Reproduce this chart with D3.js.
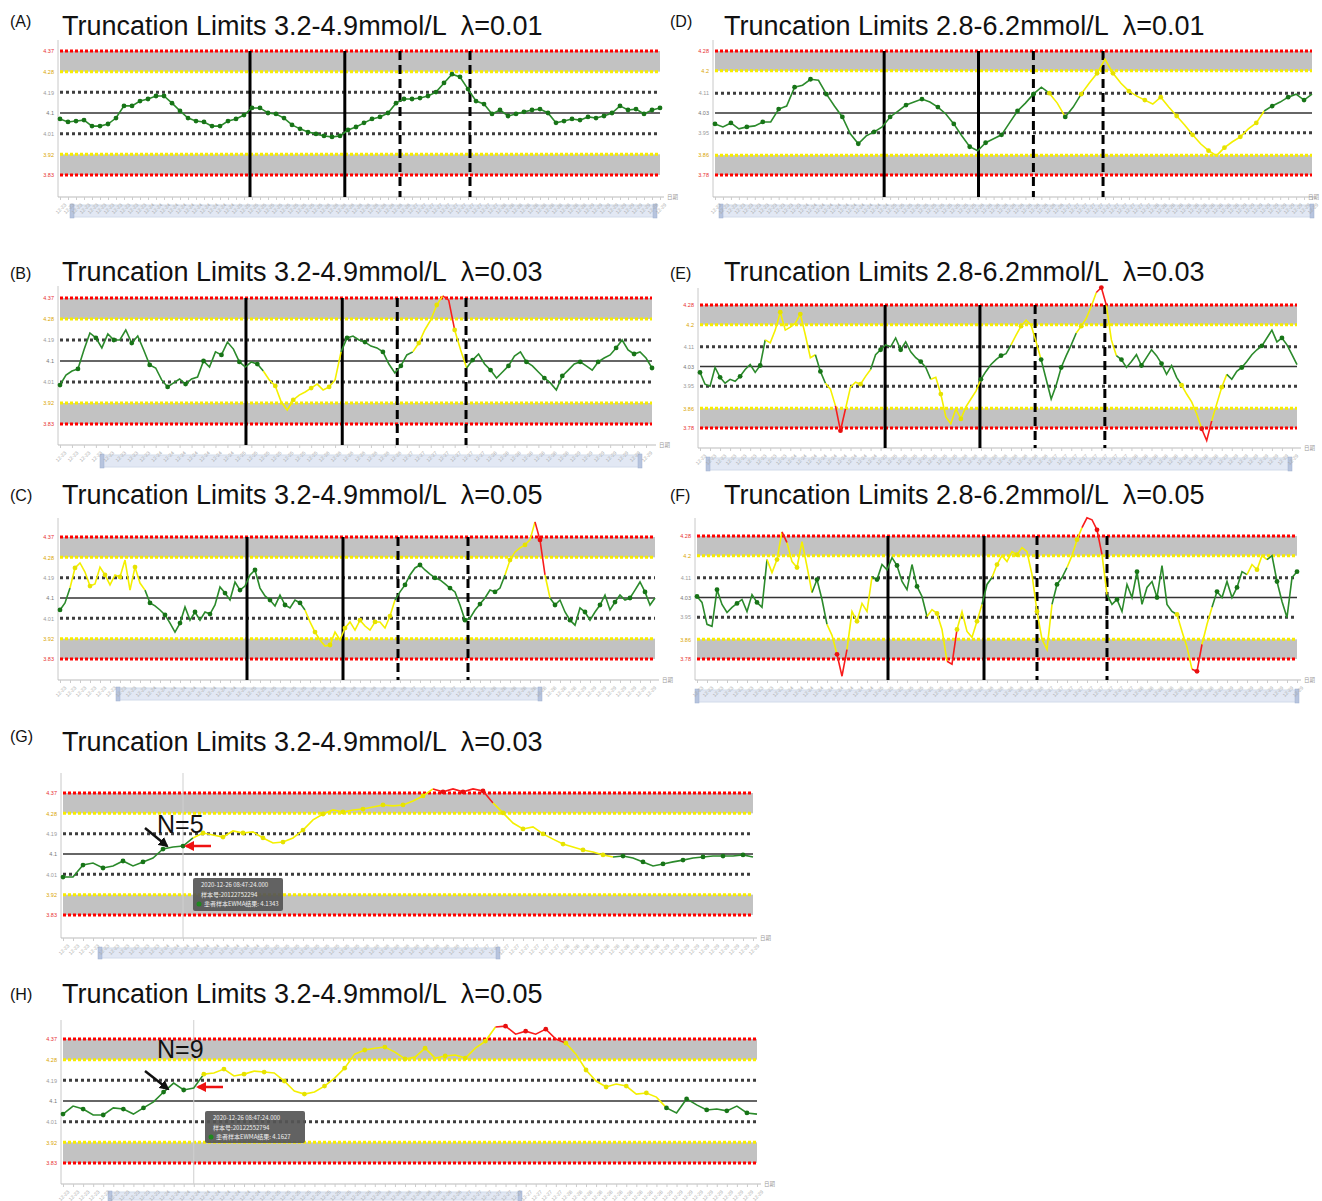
<!DOCTYPE html>
<html>
<head>
<meta charset="utf-8">
<script src="https://d3js.org/d3.v7.min.js"></script>
<style>
  body { margin: 0; background: #fff; }
  svg { display: block; font-family: "Liberation Sans", Arial, sans-serif; }
  .title { white-space: pre; }
</style>
</head>
<body>
<svg id="fig" width="1322" height="1201"></svg>
<script>
// control limits, bottom to top (-3s, -2s, -1s, mean, +1s, +2s, +3s), mmol/L
var limitsLeft = [3.83, 3.92, 4.01, 4.1, 4.19, 4.28, 4.37];
var limitsRight = [3.78, 3.86, 3.95, 4.03, 4.11, 4.2, 4.28];
var dayLabels = ['12-23', '12-24', '12-25', '12-26', '12-27', '12-28', '12-29'];

// EWMA results per panel
var valuesA = [4.074, 4.061, 4.065, 4.069, 4.043, 4.043, 4.052, 4.078, 4.131, 4.131,
  4.152, 4.161, 4.174, 4.174, 4.143, 4.109, 4.078, 4.065, 4.061, 4.043,
  4.043, 4.065, 4.074, 4.091, 4.122, 4.122, 4.1, 4.096, 4.078, 4.048,
  4.031, 4.017, 4.009, 4.0, 3.996, 4.0, 4.026, 4.039, 4.057, 4.074,
  4.083, 4.1, 4.143, 4.161, 4.161, 4.165, 4.174, 4.191, 4.231, 4.269,
  4.257, 4.204, 4.152, 4.139, 4.096, 4.113, 4.087, 4.096, 4.105, 4.113,
  4.117, 4.1, 4.057, 4.065, 4.074, 4.069, 4.083, 4.078, 4.087, 4.1,
  4.131, 4.113, 4.117, 4.096, 4.113, 4.122];
var runsA = [['g', 76]];
var eventsA = [[23.75, 'solid'], [35.6, 'solid'], [42.5, 'dash'], [51.25, 'dash']];

var valuesB = [3.997, 4.040, 4.057, 4.066, 4.147, 4.220, 4.199, 4.156, 4.216, 4.190,
  4.190, 4.233, 4.177, 4.207, 4.147, 4.083, 4.070, 4.019, 3.989, 4.006,
  4.023, 4.001, 4.023, 4.031, 4.100, 4.074, 4.139, 4.126, 4.181, 4.151,
  4.096, 4.074, 4.096, 4.087, 4.057, 4.019, 3.993, 3.924, 3.890, 3.933,
  3.954, 3.967, 3.984, 4.001, 3.976, 3.989, 4.019, 4.139, 4.199, 4.207,
  4.190, 4.181, 4.164, 4.156, 4.139, 4.087, 4.049, 4.079, 4.126, 4.139,
  4.177, 4.233, 4.276, 4.340, 4.379, 4.361, 4.233, 4.147, 4.070, 4.104,
  4.130, 4.087, 4.061, 4.027, 4.053, 4.079, 4.121, 4.139, 4.096, 4.079,
  4.053, 4.027, 4.006, 3.976, 4.036, 4.061, 4.087, 4.096, 4.079, 4.061,
  4.096, 4.113, 4.126, 4.156, 4.190, 4.147, 4.130, 4.139, 4.113, 4.070];
var runsB = [['g', 34], ['y', 13], ['g', 12], ['y', 5], ['r', 2], ['y', 2], ['g', 32]];
var eventsB = [[31.1, 'solid'], [47.2, 'solid'], [56.4, 'dash'], [67.9, 'dash']];

var valuesC = [4.047, 4.078, 4.144, 4.233, 4.255, 4.215, 4.153, 4.162, 4.237, 4.202,
  4.158, 4.202, 4.193, 4.268, 4.135, 4.237, 4.166, 4.135, 4.078, 4.065,
  4.047, 4.025, 3.989, 3.949, 3.989, 4.060, 4.002, 4.038, 4.002, 4.038,
  4.029, 4.069, 4.149, 4.122, 4.091, 4.171, 4.135, 4.153, 4.202, 4.224,
  4.144, 4.109, 4.091, 4.065, 4.113, 4.069, 4.056, 4.091, 4.078, 4.047,
  3.994, 3.949, 3.914, 3.887, 3.892, 3.949, 3.914, 3.967, 3.994, 3.958,
  4.002, 3.976, 3.958, 3.994, 3.994, 3.967, 4.020, 4.091, 4.127, 4.158,
  4.202, 4.233, 4.246, 4.224, 4.206, 4.189, 4.180, 4.162, 4.144, 4.127,
  4.069, 4.002, 4.011, 4.047, 4.073, 4.100, 4.135, 4.127, 4.144, 4.202,
  4.268, 4.304, 4.322, 4.335, 4.357, 4.437, 4.357, 4.202, 4.100, 4.069,
  4.091, 4.038, 4.002, 3.980, 4.056, 4.038, 4.002, 4.038, 4.069, 4.113,
  4.047, 4.082, 4.113, 4.091, 4.100, 4.135, 4.171, 4.127, 4.069, 4.100];
var runsC = [['g', 2], ['y', 15], ['g', 32], ['y', 18], ['g', 22], ['y', 6], ['r', 2], ['y', 1], ['g', 22]];
var eventsC = [[37.4, 'solid'], [56.6, 'solid'], [67.6, 'dash'], [81.6, 'dash']];

var valuesD = [3.986, 3.974, 3.990, 3.966, 3.974, 3.978, 3.994, 3.994, 4.046, 4.058,
  4.134, 4.142, 4.166, 4.162, 4.106, 4.058, 4.014, 3.946, 3.906, 3.938,
  3.954, 3.974, 4.014, 4.038, 4.062, 4.074, 4.086, 4.074, 4.054, 4.026,
  3.986, 3.938, 3.894, 3.878, 3.910, 3.926, 3.942, 3.990, 4.038, 4.070,
  4.106, 4.134, 4.110, 4.070, 4.014, 4.054, 4.106, 4.150, 4.190, 4.247,
  4.190, 4.150, 4.118, 4.098, 4.082, 4.066, 4.094, 4.054, 4.018, 3.982,
  3.942, 3.906, 3.878, 3.858, 3.890, 3.914, 3.934, 3.966, 3.990, 4.038,
  4.058, 4.074, 4.094, 4.106, 4.082, 4.106];
var runsD = [['g', 42], ['y', 2], ['g', 2], ['y', 23], ['g', 7]];
var eventsD = [[21.25, 'solid'], [33.1, 'solid'], [40, 'dash'], [48.75, 'dash']];

var valuesE = [4.006, 3.958, 3.950, 4.026, 3.986, 3.962, 3.978, 3.970, 3.990, 4.018,
  4.038, 4.006, 4.034, 4.138, 4.126, 4.178, 4.251, 4.178, 4.190, 4.206,
  4.243, 4.158, 4.066, 4.078, 4.010, 3.962, 3.938, 3.870, 3.769, 3.858,
  3.946, 3.966, 3.958, 3.990, 4.018, 4.078, 4.098, 4.118, 4.110, 4.146,
  4.098, 4.130, 4.090, 4.066, 4.050, 4.026, 3.978, 3.986, 3.918, 3.825,
  3.797, 3.858, 3.817, 3.866, 3.898, 3.930, 3.978, 4.010, 4.038, 4.058,
  4.074, 4.082, 4.118, 4.158, 4.194, 4.218, 4.198, 4.130, 4.058, 3.978,
  3.898, 3.954, 4.026, 4.074, 4.118, 4.166, 4.194, 4.226, 4.275, 4.331,
  4.351, 4.279, 4.138, 4.074, 4.058, 4.026, 4.050, 4.078, 4.034, 4.066,
  4.098, 4.074, 4.042, 3.998, 4.034, 3.986, 3.954, 3.918, 3.886, 3.838,
  3.777, 3.729, 3.809, 3.878, 3.946, 3.998, 3.978, 4.010, 4.026, 4.050,
  4.078, 4.098, 4.114, 4.146, 4.178, 4.130, 4.146, 4.118, 4.078, 4.038];
var runsE = [['g', 13], ['y', 10], ['g', 2], ['y', 2], ['r', 2], ['y', 5], ['g', 12], ['y', 10], ['g', 6], ['y', 6],
  ['g', 7], ['y', 4], ['r', 2], ['y', 2], ['g', 13], ['y', 4], ['r', 2], ['y', 3], ['g', 15]];
var eventsE = [[36.9, 'solid'], [55.8, 'solid'], [66.8, 'dash'], [80.7, 'dash']];

var valuesF = [4.034, 4.010, 3.921, 3.913, 4.062, 4.002, 3.969, 3.990, 4.006, 4.022,
  3.973, 4.042, 4.010, 3.990, 4.184, 4.131, 4.184, 4.297, 4.253, 4.176,
  4.152, 4.257, 4.156, 4.050, 4.103, 4.022, 3.921, 3.876, 3.799, 3.710,
  3.819, 3.973, 3.933, 4.006, 3.973, 4.115, 4.103, 4.164, 4.143, 4.192,
  4.160, 4.095, 4.062, 4.164, 4.075, 4.034, 3.953, 3.981, 3.965, 3.900,
  3.771, 3.759, 3.900, 3.973, 3.892, 3.868, 3.933, 4.002, 4.083, 4.111,
  4.164, 4.200, 4.176, 4.216, 4.204, 4.233, 4.216, 4.123, 3.973, 3.860,
  3.819, 4.002, 4.083, 4.111, 4.152, 4.200, 4.265, 4.314, 4.354, 4.346,
  4.305, 4.204, 4.042, 4.002, 4.022, 3.973, 4.083, 4.030, 4.135, 4.002,
  4.071, 4.095, 4.030, 4.160, 4.002, 3.973, 3.961, 3.892, 3.828, 3.738,
  3.730, 3.840, 3.921, 3.990, 4.054, 4.030, 4.095, 4.030, 4.071, 4.135,
  4.123, 4.164, 4.143, 4.200, 4.184, 4.200, 4.095, 4.014, 3.949, 4.111, 4.135];
var runsF = [['g', 14], ['y', 3], ['r', 1], ['y', 5], ['g', 3], ['y', 2], ['r', 2], ['y', 5], ['g', 11], ['y', 4],
  ['r', 2], ['y', 5], ['g', 2], ['y', 12], ['g', 3], ['y', 3], ['r', 4], ['y', 1], ['g', 14], ['y', 3],
  ['r', 2], ['y', 2], ['g', 7], ['y', 4], ['g', 7]];
var eventsF = [[38.2, 'solid'], [57.4, 'solid'], [68, 'dash'], [82, 'dash']];

var valuesG = [3.998, 3.998, 4.051, 4.060, 4.038, 4.047, 4.069, 4.047, 4.065, 4.082,
  4.122, 4.131, 4.135, 4.171, 4.193, 4.184, 4.175, 4.202, 4.193, 4.198,
  4.171, 4.149, 4.153, 4.171, 4.206, 4.251, 4.277, 4.295, 4.286, 4.295,
  4.299, 4.308, 4.317, 4.313, 4.317, 4.335, 4.357, 4.388, 4.375, 4.388,
  4.375, 4.388, 4.379, 4.326, 4.282, 4.237, 4.211, 4.220, 4.189, 4.166,
  4.144, 4.131, 4.118, 4.109, 4.096, 4.087, 4.091, 4.082, 4.065, 4.047,
  4.056, 4.065, 4.073, 4.082, 4.087, 4.091, 4.091, 4.091, 4.096, 4.087];
var runsG = [['g', 13], ['y', 24], ['r', 6], ['y', 12], ['g', 15]];
var tooltipG = ['2020-12-26 08:47:24.000', '样本号:20122752294', '患者样本EWMA结果: 4.1343'];

var valuesH = [4.043, 4.078, 4.065, 4.039, 4.039, 4.070, 4.065, 4.043, 4.070, 4.096,
  4.139, 4.178, 4.148, 4.157, 4.217, 4.222, 4.239, 4.209, 4.217, 4.230,
  4.226, 4.222, 4.187, 4.143, 4.130, 4.139, 4.165, 4.200, 4.243, 4.304,
  4.322, 4.330, 4.335, 4.313, 4.283, 4.291, 4.330, 4.287, 4.296, 4.300,
  4.287, 4.330, 4.361, 4.422, 4.426, 4.391, 4.404, 4.391, 4.413, 4.370,
  4.352, 4.304, 4.235, 4.187, 4.161, 4.174, 4.165, 4.130, 4.135, 4.117,
  4.070, 4.048, 4.109, 4.083, 4.061, 4.065, 4.057, 4.078, 4.048, 4.043];
var runsH = [['g', 14], ['y', 29], ['r', 7], ['y', 10], ['g', 10]];
var tooltipH = ['2020-12-26 08:47:24.000', '样本号:20122552794', '患者样本EWMA结果: 4.1627'];

var colors = { g: '#2b8a2b', y: '#f4f000', r: '#f81c1c' };
var markColors = { g: '#177417', y: '#e6e200', r: '#e81010' };

var panels = [
  { label: '(A)', title: 'Truncation Limits 3.2-4.9mmol/L  λ=0.01', lx: 10, ly: 27, tx: 62, ty: 35,
    values: valuesA, runs: runsA, events: eventsA, limits: limitsLeft, every: 1,
    left: 60, right: 660, yTop: 51, yBot: 175, axisTop: 40, axisY: 197, slider: [72, 655, 205, 217] },
  { label: '(B)', title: 'Truncation Limits 3.2-4.9mmol/L  λ=0.03', lx: 10, ly: 279, tx: 62, ty: 281,
    values: valuesB, runs: runsB, events: eventsB, limits: limitsLeft, every: 3,
    left: 60, right: 652, yTop: 298, yBot: 424, axisTop: 286, axisY: 445, slider: [102, 640, 455, 467] },
  { label: '(C)', title: 'Truncation Limits 3.2-4.9mmol/L  λ=0.05', lx: 10, ly: 501, tx: 62, ty: 504,
    values: valuesC, runs: runsC, events: eventsC, limits: limitsLeft, every: 3,
    left: 60, right: 655, yTop: 537, yBot: 659, axisTop: 518, axisY: 680, slider: [118, 540, 688, 700] },
  { label: '(D)', title: 'Truncation Limits 2.8-6.2mmol/L  λ=0.01', lx: 670, ly: 27, tx: 724, ty: 35,
    values: valuesD, runs: runsD, events: eventsD, limits: limitsRight, every: 2,
    left: 715, right: 1312, yTop: 51, yBot: 175, axisTop: 40, axisY: 197, slider: [721, 1312, 205, 217] },
  { label: '(E)', title: 'Truncation Limits 2.8-6.2mmol/L  λ=0.03', lx: 670, ly: 279, tx: 724, ty: 281,
    values: valuesE, runs: runsE, events: eventsE, limits: limitsRight, every: 4,
    left: 700, right: 1297, yTop: 305, yBot: 428, axisTop: 288, axisY: 448, slider: [708, 1290, 458, 470] },
  { label: '(F)', title: 'Truncation Limits 2.8-6.2mmol/L  λ=0.05', lx: 670, ly: 501, tx: 724, ty: 504,
    values: valuesF, runs: runsF, events: eventsF, limits: limitsRight, every: 4,
    left: 697, right: 1297, yTop: 536, yBot: 659, axisTop: 518, axisY: 680, slider: [697, 1297, 690, 702] },
  { label: '(G)', title: 'Truncation Limits 3.2-4.9mmol/L  λ=0.03', lx: 10, ly: 742, tx: 62, ty: 751,
    values: valuesG, runs: runsG, events: [], limits: limitsLeft, every: 2,
    left: 63, right: 753, yTop: 793, yBot: 915, axisTop: 773, axisY: 938, slider: [100, 498, 948, 958],
    cross: 12, tip: tooltipG, tipBox: [193, 878, 90, 33], note: 'N=5', noteXY: [157, 833],
    blackArrow: [145, 828, 167, 846], redArrow: [211, 846, 186, 846] },
  { label: '(H)', title: 'Truncation Limits 3.2-4.9mmol/L  λ=0.05', lx: 10, ly: 1000, tx: 62, ty: 1003,
    values: valuesH, runs: runsH, events: [], limits: limitsLeft, every: 2,
    left: 63, right: 757, yTop: 1039, yBot: 1163, axisTop: 1020, axisY: 1184, slider: [110, 520, 1192, 1200],
    cross: 13, tip: tooltipH, tipBox: [205, 1111, 100, 32], note: 'N=9', noteXY: [157, 1058],
    blackArrow: [145, 1071, 168, 1089], redArrow: [223, 1087, 198, 1087] }
];

var svg = d3.select('#fig');
var defs = svg.append('defs');
[['ahBlack', '#111'], ['ahRed', '#ee1111']].forEach(function (a) {
  defs.append('marker').attr('id', a[0]).attr('viewBox', '0 0 10 10')
    .attr('refX', 8).attr('refY', 5).attr('markerWidth', 4).attr('markerHeight', 4)
    .attr('orient', 'auto')
    .append('path').attr('d', 'M0,0L10,5L0,10z').attr('fill', a[1]);
});

// color of each point from the run-length list
function pointColors(runs, n) {
  var out = [];
  runs.forEach(function (r) {
    for (var k = 0; k < r[1]; k++) out.push(r[0]);
  });
  while (out.length < n) out.push(out[out.length - 1]);
  return out;
}

var drawPanel = function (p) {
  var n = p.values.length;
  var x = d3.scaleLinear().domain([0, n - 1]).range([p.left, p.right]);
  var y = d3.scaleLinear().domain([p.limits[0], p.limits[6]]).range([p.yBot, p.yTop]);
  var g = svg.append('g');

  svg.append('text').attr('x', p.lx).attr('y', p.ly).attr('font-size', 16).attr('fill', '#111').text(p.label);
  svg.append('text').attr('class', 'title').attr('x', p.tx).attr('y', p.ty)
    .attr('font-size', 27).attr('fill', '#111').text(p.title);

  // slider under the axis (drawn first so the tick labels sit on top)
  var s = p.slider;
  g.append('rect').attr('x', s[0]).attr('y', s[2]).attr('width', s[1] - s[0]).attr('height', s[3] - s[2])
    .attr('fill', '#e2e8f4').attr('stroke', '#d2dbea');
  [s[0], s[1]].forEach(function (hx) {
    g.append('rect').attr('x', hx - 2).attr('y', s[2] - 1).attr('width', 4).attr('height', s[3] - s[2] + 2)
      .attr('fill', '#b7c4de').attr('stroke', '#9fb0d0').attr('stroke-width', 0.5);
  });

  // gray warning bands between 2s and 3s
  [[5, 6], [0, 1]].forEach(function (b) {
    g.append('rect').attr('x', p.left).attr('width', p.right - p.left)
      .attr('y', y(p.limits[b[1]])).attr('height', y(p.limits[b[0]]) - y(p.limits[b[1]]))
      .attr('fill', '#c2c2c2');
  });

  // axes
  g.append('line').attr('x1', p.left - 2).attr('x2', p.left - 2)
    .attr('y1', p.axisTop).attr('y2', p.axisY).attr('stroke', '#c8c8c8');

  var step = Math.max(1, Math.round(9 / ((p.right - p.left) / (n - 1))));
  var xAxis = d3.axisBottom(x).tickValues(d3.range(0, n, step)).tickSize(3)
    .tickFormat(function (i) { return dayLabels[Math.min(dayLabels.length - 1, Math.floor(i / n * dayLabels.length))]; });
  var ax = g.append('g').attr('transform', 'translate(0,' + p.axisY + ')').call(xAxis);
  ax.select('.domain').attr('stroke', '#bbb').attr('d', 'M' + (p.left - 2) + ',0H' + (p.right + 4));
  ax.selectAll('.tick line').attr('stroke', '#ccc');
  ax.selectAll('.tick text').attr('font-size', 5).attr('fill', '#a8a8a8')
    .attr('text-anchor', 'end').attr('dx', 0).attr('dy', 0)
    .attr('transform', 'translate(2,4) rotate(-45)');
  g.append('text').attr('x', Math.min(p.right + 7, 1308)).attr('y', p.axisY + 2).attr('font-size', 5.5)
    .attr('fill', '#999').attr('font-family', 'Noto Sans CJK SC').text('日期');

  var labelColors = ['#e83030', '#d9a400', '#9a9a9a', '#777', '#9a9a9a', '#d9a400', '#e83030'];
  var yAxis = d3.axisLeft(y).tickValues(p.limits).tickSize(0).tickFormat(function (v) { return String(v); });
  var ay = g.append('g').attr('transform', 'translate(' + (p.left - 3) + ',0)').call(yAxis);
  ay.select('.domain').remove();
  ay.selectAll('.tick text').attr('font-size', 5.5).attr('fill', function (v, i) { return labelColors[i]; });

  // limit lines
  p.limits.forEach(function (v, i) {
    var line = g.append('line').attr('x1', p.left).attr('x2', p.right).attr('y1', y(v)).attr('y2', y(v));
    if (i === 3) {
      line.attr('stroke', '#333').attr('stroke-width', 1.6);
    } else if (i === 0 || i === 6) {
      line.attr('stroke', '#ff0000').attr('stroke-width', 3).attr('stroke-dasharray', '3,2');
    } else if (i === 1 || i === 5) {
      line.attr('stroke', '#f6ec00').attr('stroke-width', 3).attr('stroke-dasharray', '3,2');
    } else {
      line.attr('stroke', '#3d3d3d').attr('stroke-width', 3).attr('stroke-dasharray', '3,3');
    }
  });

  // event markers
  p.events.forEach(function (e) {
    g.append('line').attr('x1', x(e[0])).attr('x2', x(e[0]))
      .attr('y1', p.yTop).attr('y2', p.axisY)
      .attr('stroke', '#000').attr('stroke-width', 3)
      .attr('stroke-dasharray', e[1] === 'dash' ? '9,5' : null);
  });

  if (p.cross !== undefined) {
    g.append('line').attr('x1', x(p.cross)).attr('x2', x(p.cross))
      .attr('y1', p.axisTop).attr('y2', p.axisY).attr('stroke', '#cfcfcf').attr('stroke-width', 1);
  }

  // EWMA series
  var cols = pointColors(p.runs, n);
  var line = d3.line().x(function (d) { return x(d[0]); }).y(function (d) { return y(d[1]); });
  var start = 0;
  for (var i = 1; i <= n; i++) {
    if (i === n || cols[i] !== cols[start]) {
      var pts = [];
      for (var k = start; k <= Math.min(i, n - 1); k++) pts.push([k, p.values[k]]);
      g.append('path').attr('d', line(pts)).attr('fill', 'none')
        .attr('stroke', colors[cols[start]]).attr('stroke-width', 1.6);
      start = i;
    }
  }
  g.selectAll('circle.pt').data(p.values.map(function (v, i) { return [i, v]; })
      .filter(function (d) { return d[0] % p.every === 0; }))
    .enter().append('circle').attr('class', 'pt')
    .attr('cx', function (d) { return x(d[0]); })
    .attr('cy', function (d) { return y(d[1]); })
    .attr('r', 2.4)
    .attr('fill', function (d) { return markColors[cols[d[0]]]; });

  if (p.tip) {
    var b = p.tipBox;
    g.append('rect').attr('x', b[0]).attr('y', b[1]).attr('width', b[2]).attr('height', b[3])
      .attr('rx', 2).attr('fill', '#555').attr('opacity', 0.92);
    p.tip.forEach(function (t, j) {
      g.append('text').attr('x', b[0] + (j === 2 ? 11 : 8)).attr('y', b[1] + 9 + j * 9.5)
        .attr('font-size', 6).attr('fill', '#f0f0f0').attr('font-family', 'Noto Sans CJK SC').text(t);
    });
    g.append('circle').attr('cx', b[0] + 6).attr('cy', b[1] + 7 + 2 * 9.5).attr('r', 2.5).attr('fill', '#1e8a1e');
    g.append('text').attr('x', p.noteXY[0]).attr('y', p.noteXY[1]).attr('font-size', 25)
      .attr('fill', '#111').text(p.note);
    var ba = p.blackArrow, ra = p.redArrow;
    g.append('line').attr('x1', ba[0]).attr('y1', ba[1]).attr('x2', ba[2]).attr('y2', ba[3])
      .attr('stroke', '#111').attr('stroke-width', 2.5).attr('marker-end', 'url(#ahBlack)');
    g.append('line').attr('x1', ra[0]).attr('y1', ra[1]).attr('x2', ra[2]).attr('y2', ra[3])
      .attr('stroke', '#ee1111').attr('stroke-width', 2.5).attr('marker-end', 'url(#ahRed)');
  }
};

panels.forEach(drawPanel);
</script>
</body>
</html>
